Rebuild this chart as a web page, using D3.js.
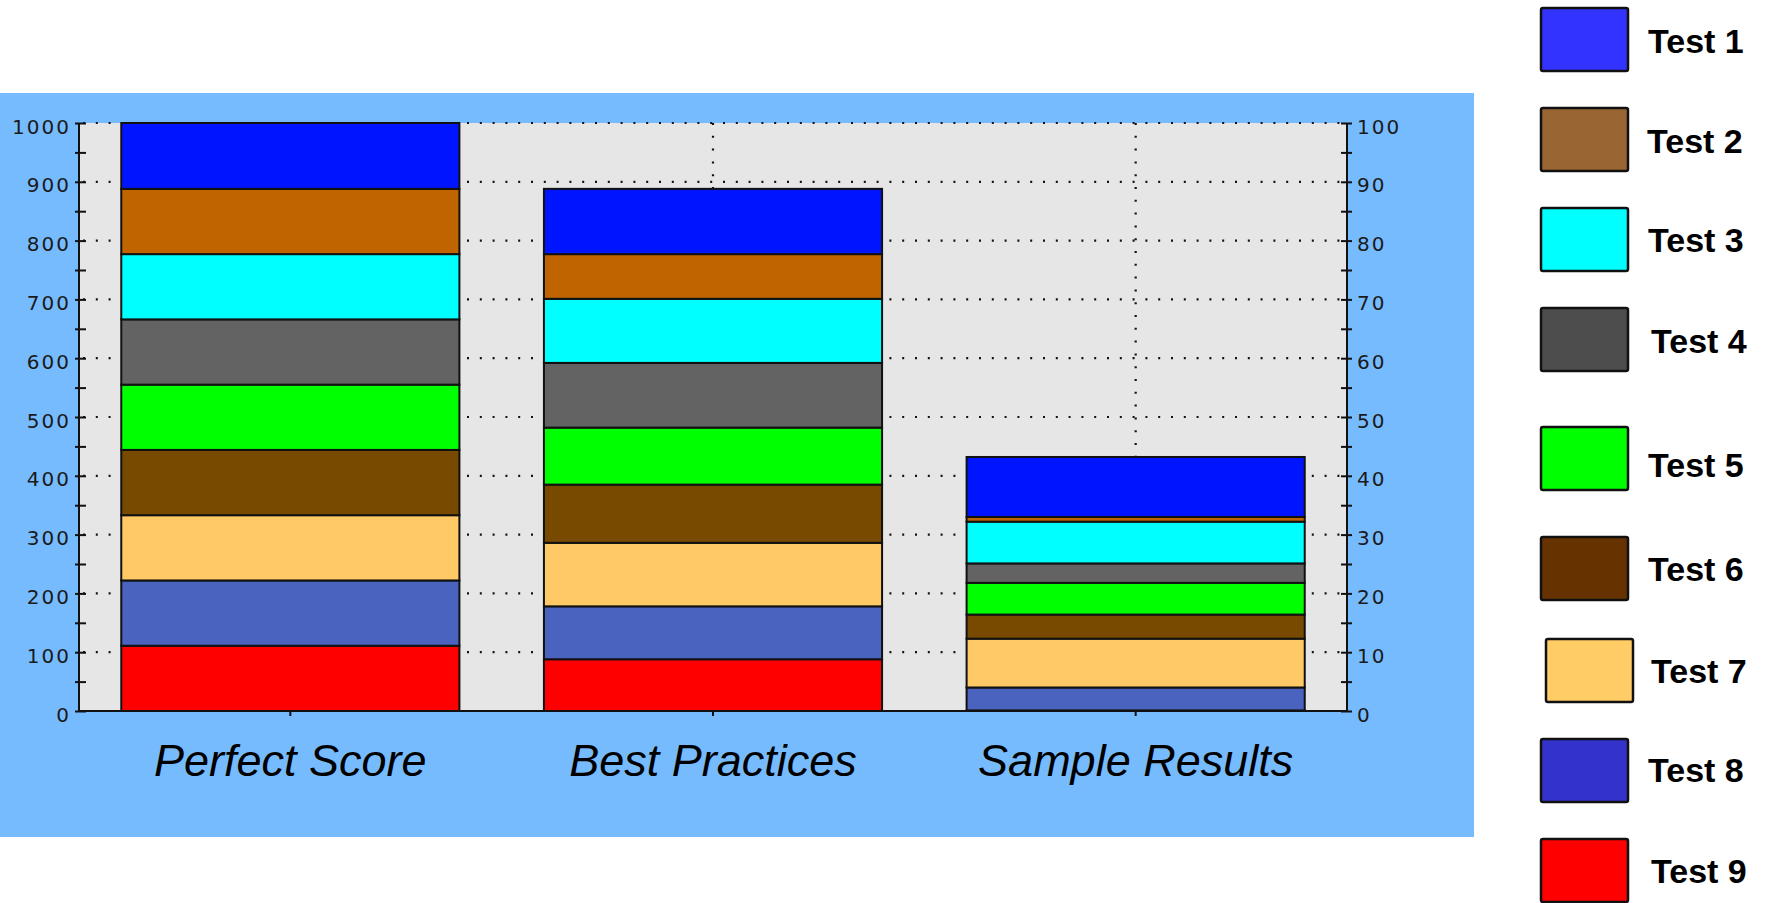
<!DOCTYPE html>
<html>
<head>
<meta charset="utf-8">
<script src="https://cdn.jsdelivr.net/npm/d3@7"></script>
<style>
  html, body { margin: 0; padding: 0; background: #ffffff; }
  svg { display: block; }
</style>
</head>
<body>
<svg id="chart" width="1765" height="903"></svg>
<script>
// ---- data ---------------------------------------------------------------
const categories = ["Perfect Score", "Best Practices", "Sample Results"];
const tests = ["Test 1", "Test 2", "Test 3", "Test 4", "Test 5", "Test 6", "Test 7", "Test 8", "Test 9"];

// scores per test, one value per category (left axis units)
const test1 = [112, 111, 102];
const test2 = [111, 76, 8];
const test3 = [111, 109, 71];
const test4 = [111, 110, 33];
const test5 = [111, 97, 54];
const test6 = [111, 99, 41];
const test7 = [111, 108, 83];
const test8 = [111, 90, 39];
const test9 = [111, 88, 1];

const leftTicks = [0, 100, 200, 300, 400, 500, 600, 700, 800, 900, 1000];
const rightTicks = [0, 10, 20, 30, 40, 50, 60, 70, 80, 90, 100];

// ---- styles -------------------------------------------------------------
const barColors = ["#0015ff", "#c06400", "#00ffff", "#636363", "#00ff00", "#774a00", "#ffc966", "#4a63bf", "#ff0000"];
const legendColors = ["#3333ff", "#996633", "#00ffff", "#4d4d4d", "#00ff00", "#663300", "#ffcc66", "#3333cc", "#ff0000"];

// legend layout (swatch top, label baseline, label x, swatch x)
const legendTop = [8, 108, 208, 308, 427, 537, 639, 739, 839];
const legendBase = [53, 153, 252, 353, 477, 581, 683, 782, 883];
const legendTextX = [1648, 1647, 1648, 1651, 1648, 1648, 1651, 1648, 1651];
const legendSwatchX = [1541, 1541, 1541, 1541, 1541, 1541, 1546, 1541, 1541];

const seriesByTest = [test1, test2, test3, test4, test5, test6, test7, test8, test9];

const svg = d3.select("#chart");

const plot = { left: 79, right: 1347, top: 123, bottom: 711 };

// outer panel
svg.append("rect")
  .attr("x", 0).attr("y", 93)
  .attr("width", 1474).attr("height", 744)
  .attr("fill", "#77bbff");

// plot background
svg.append("rect")
  .attr("x", plot.left).attr("y", plot.top)
  .attr("width", plot.right - plot.left).attr("height", plot.bottom - plot.top)
  .attr("fill", "#e6e6e6");

const x = d3.scaleBand()
  .domain(categories)
  .range([plot.left, plot.right])
  .paddingInner(0.2)
  .paddingOuter(0.1);

const y = d3.scaleLinear().domain([0, 1000]).range([plot.bottom, plot.top]);
const yRight = d3.scaleLinear().domain([0, 100]).range([plot.bottom, plot.top]);

// dotted grid
const grid = svg.append("g")
  .attr("stroke", "#111")
  .attr("stroke-width", 2.2)
  .attr("stroke-dasharray", "2,10.8")
  .attr("fill", "none");

grid.selectAll("line.h")
  .data(leftTicks.filter(d => d > 0))
  .join("line")
  .attr("class", "h")
  .attr("x1", plot.left + 4).attr("x2", plot.right)
  .attr("y1", d => y(d)).attr("y2", d => y(d));

grid.selectAll("line.v")
  .data(categories)
  .join("line")
  .attr("class", "v")
  .attr("x1", d => x(d) + x.bandwidth() / 2)
  .attr("x2", d => x(d) + x.bandwidth() / 2)
  .attr("y1", plot.top).attr("y2", plot.bottom);

// stacked bars: Test 9 sits at the bottom, Test 1 on top
const rows = categories.map((c, i) => {
  const row = { category: c };
  tests.forEach((t, k) => { row[t] = seriesByTest[k][i]; });
  return row;
});

const stackKeys = tests.slice().reverse();
const stacked = d3.stack().keys(stackKeys)(rows);
const colorOf = d3.scaleOrdinal().domain(tests).range(barColors);

svg.append("g")
  .selectAll("g")
  .data(stacked)
  .join("g")
  .attr("fill", d => colorOf(d.key))
  .selectAll("rect")
  .data(d => d)
  .join("rect")
  .attr("x", d => x(d.data.category))
  .attr("width", x.bandwidth())
  .attr("y", d => y(d[1]))
  .attr("height", d => y(d[0]) - y(d[1]))
  .attr("stroke", "#111")
  .attr("stroke-width", 2);

// axes
const tickFont = "'DejaVu Sans', sans-serif";

function styleAxis(g, inner, outer) {
  g.select(".domain").remove();
  g.selectAll(".tick line")
    .attr("stroke", "#111")
    .attr("stroke-width", 2)
    .attr("x1", inner).attr("x2", outer);
  g.selectAll(".tick text")
    .attr("font-family", tickFont)
    .attr("font-size", 20)
    .attr("letter-spacing", 2)
    .attr("fill", "#1a1a1a")
    .attr("dy", 10);
}

// left axis: major ticks with labels, minor ticks in between
const leftAxis = svg.append("g")
  .attr("transform", `translate(${plot.left},0)`)
  .call(d3.axisLeft(y).tickValues(leftTicks).tickSize(0).tickPadding(8).tickFormat(d3.format("d")));
styleAxis(leftAxis, -4, 7);

const leftMinor = svg.append("g")
  .attr("transform", `translate(${plot.left},0)`)
  .call(d3.axisLeft(y).tickValues(d3.range(50, 1000, 100)).tickSize(0).tickFormat(""));
styleAxis(leftMinor, -4, 7);

const rightAxis = svg.append("g")
  .attr("transform", `translate(${plot.right},0)`)
  .call(d3.axisRight(yRight).tickValues(rightTicks).tickSize(0).tickPadding(10).tickFormat(d3.format("d")));
styleAxis(rightAxis, -6, 5);

const rightMinor = svg.append("g")
  .attr("transform", `translate(${plot.right},0)`)
  .call(d3.axisRight(yRight).tickValues(d3.range(5, 100, 10)).tickSize(0).tickFormat(""));
styleAxis(rightMinor, -6, 5);

// axis lines
svg.append("line")
  .attr("x1", plot.left).attr("x2", plot.left)
  .attr("y1", plot.top).attr("y2", plot.bottom + 1)
  .attr("stroke", "#111").attr("stroke-width", 2);
svg.append("line")
  .attr("x1", plot.right).attr("x2", plot.right)
  .attr("y1", plot.top).attr("y2", plot.bottom + 1)
  .attr("stroke", "#111").attr("stroke-width", 2);
svg.append("line")
  .attr("x1", plot.left).attr("x2", plot.right)
  .attr("y1", plot.bottom).attr("y2", plot.bottom)
  .attr("stroke", "#111").attr("stroke-width", 2);

// category axis
const bottomAxis = svg.append("g")
  .attr("transform", `translate(0,${plot.bottom})`)
  .call(d3.axisBottom(x).tickSize(5).tickPadding(0).tickFormat(""));
bottomAxis.select(".domain").remove();
bottomAxis.selectAll(".tick line").attr("stroke", "#111").attr("stroke-width", 2);

svg.append("g")
  .selectAll("text")
  .data(categories)
  .join("text")
  .attr("x", d => x(d) + x.bandwidth() / 2)
  .attr("y", 776)
  .attr("text-anchor", "middle")
  .attr("font-family", "'Liberation Sans', Arial, sans-serif")
  .attr("font-style", "italic")
  .attr("font-size", 45)
  .attr("fill", "#000")
  .text(d => d);

// legend
const legend = svg.append("g")
  .selectAll("g")
  .data(tests)
  .join("g");

legend.append("rect")
  .attr("x", (d, i) => legendSwatchX[i])
  .attr("y", (d, i) => legendTop[i])
  .attr("width", 87)
  .attr("height", 63)
  .attr("rx", 2)
  .attr("fill", (d, i) => legendColors[i])
  .attr("stroke", "#111")
  .attr("stroke-width", 2.5);

legend.append("text")
  .attr("x", (d, i) => legendTextX[i])
  .attr("y", (d, i) => legendBase[i])
  .attr("font-family", "'Liberation Sans', Arial, sans-serif")
  .attr("font-weight", "bold")
  .attr("font-size", 34)
  .attr("fill", "#000")
  .text(d => d);
</script>
</body>
</html>
